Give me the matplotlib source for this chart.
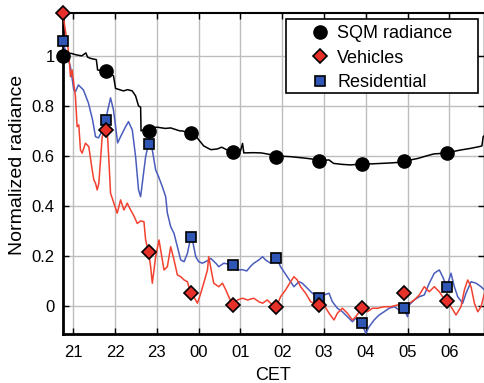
import matplotlib
matplotlib.use("Agg")
import matplotlib.pyplot as plt
from matplotlib.patches import Rectangle
from matplotlib.ticker import FixedLocator, FixedFormatter

plt.rcParams['font.family'] = ['Liberation Sans', 'DejaVu Sans']

# Hours after midnight of the first evening (21 = 21:00, 30 = 06:00 next day)
sqm_t = [20.76, 20.95, 21.05, 21.2, 21.30, 21.34, 21.41, 21.55, 21.58, 21.70, 21.89, 21.96,
         22.01, 22.20, 22.30, 22.41, 22.49, 22.56, 22.61, 22.62, 22.75, 23.0, 23.2, 23.33,
         23.55, 23.61, 23.81, 23.95, 24.12, 24.29, 24.45, 24.55, 24.76, 24.81, 25.00, 25.05,
         25.08, 25.3, 25.5, 25.70, 25.86, 26.2, 26.5, 26.7, 26.88, 27.12, 27.23, 27.45, 27.64,
         27.90, 28.10, 28.36, 28.60, 28.77, 28.90, 29.10, 29.25, 29.45, 29.63, 29.80, 29.94,
         30.10, 30.28, 30.50, 30.71, 30.78, 30.81, 30.83]
sqm_v = [1.01, 1.01, 1.005, 1.0, 1.012, 0.995, 0.99, 0.985, 0.944, 0.94, 0.93, 0.92,
         0.87, 0.86, 0.865, 0.86, 0.84, 0.80, 0.795, 0.70, 0.71, 0.715, 0.71, 0.712,
         0.70, 0.70, 0.69, 0.675, 0.64, 0.625, 0.628, 0.635, 0.617, 0.613, 0.62, 0.65,
         0.612, 0.613, 0.612, 0.606, 0.60, 0.597, 0.592, 0.588, 0.581, 0.584, 0.57, 0.566, 0.564,
         0.568, 0.568, 0.57, 0.572, 0.574, 0.58, 0.585, 0.59, 0.60, 0.608, 0.61, 0.613,
         0.618, 0.624, 0.63, 0.637, 0.64, 0.677, 0.68]

res_t = [20.74, 20.76, 20.93, 21.01, 21.05, 21.12, 21.24, 21.36, 21.46, 21.53, 21.60, 21.70,
         21.77, 21.89, 21.96, 22.06, 22.13, 22.25, 22.32, 22.41, 22.49, 22.56, 22.61, 22.73,
         22.80, 22.89, 22.97, 23.04, 23.13, 23.21, 23.25, 23.33, 23.41, 23.49, 23.57, 23.65,
         23.73, 23.81, 23.85, 23.93, 24.00, 24.09, 24.21, 24.29, 24.41, 24.48, 24.60, 24.81,
         24.93, 25.05, 25.15, 25.25, 25.32, 25.44, 25.53, 25.60, 25.72, 25.80, 25.87, 25.96,
         26.12, 26.20, 26.28, 26.40, 26.48, 26.60, 26.72, 26.84, 26.88, 27.00, 27.12, 27.20,
         27.32, 27.44, 27.56, 27.68, 27.76, 27.90, 28.00, 28.08, 28.20, 28.32, 28.44, 28.56,
         28.68, 28.80, 28.90, 29.00, 29.04, 29.16, 29.28, 29.40, 29.52, 29.64, 29.76, 29.84,
         29.94, 30.04, 30.12, 30.20, 30.32, 30.40, 30.52, 30.64, 30.76, 30.84]
res_v = [1.057, 1.05, 0.957, 0.864, 0.857, 0.884, 0.864, 0.812, 0.744, 0.677, 0.672, 0.704,
         0.744, 0.832, 0.784, 0.652, 0.677, 0.717, 0.737, 0.704, 0.597, 0.464, 0.437, 0.597,
         0.65, 0.624, 0.544, 0.517, 0.477, 0.437, 0.372, 0.317, 0.29, 0.237, 0.184, 0.177,
         0.21, 0.275, 0.264, 0.197, 0.177, 0.171, 0.181, 0.19, 0.171, 0.157, 0.171, 0.164,
         0.144, 0.145, 0.140, 0.160, 0.171, 0.184, 0.197, 0.184, 0.171, 0.184, 0.19, 0.157,
         0.117, 0.097, 0.077, 0.097, 0.091, 0.071, 0.051, 0.037, 0.031, 0.044, 0.051, 0.017,
         -0.009, -0.023, -0.043, -0.063, -0.049, -0.069, -0.109, -0.083, -0.056, -0.036, -0.023, -0.009,
         -0.003, -0.016, -0.007, -0.043, 0.004, 0.024, 0.037, 0.044, 0.091, 0.131, 0.144, 0.117,
         0.077, 0.131, 0.077, 0.037, 0.011, 0.051, 0.097, 0.091, 0.077, 0.064]

veh_t = [20.74, 20.76, 20.89, 20.93, 20.97, 21.01, 21.05, 21.09, 21.13, 21.17, 21.21, 21.29,
         21.37, 21.45, 21.49, 21.53, 21.57, 21.61, 21.65, 21.69, 21.77, 21.81, 21.85, 21.89,
         21.97, 22.05, 22.13, 22.21, 22.29, 22.37, 22.45, 22.53, 22.61, 22.69, 22.73, 22.80,
         22.85, 22.89, 22.97, 23.05, 23.09, 23.17, 23.25, 23.33, 23.41, 23.49, 23.57, 23.65,
         23.73, 23.81, 23.88, 23.97, 24.05, 24.12, 24.21, 24.24, 24.33, 24.36, 24.48, 24.57,
         24.65, 24.72, 24.81, 24.93, 25.05, 25.17, 25.32, 25.44, 25.53, 25.64, 25.72, 25.80,
         25.86, 25.96, 26.08, 26.20, 26.28, 26.36, 26.44, 26.56, 26.68, 26.76, 26.86, 27.00,
         27.12, 27.24, 27.32, 27.44, 27.56, 27.68, 27.76, 27.90, 28.04, 28.16, 28.28, 28.44,
         28.60, 28.76, 28.90, 29.04, 29.16, 29.28, 29.40, 29.52, 29.64, 29.76, 29.84, 29.94,
         30.04, 30.16, 30.28, 30.36, 30.44, 30.52, 30.60, 30.68, 30.76, 30.84]
veh_v = [1.17, 1.157, 1.01, 0.917, 0.944, 0.89, 0.837, 0.717, 0.724, 0.624, 0.611, 0.651,
         0.637, 0.544, 0.504, 0.491, 0.464, 0.491, 0.584, 0.677, 0.704, 0.704, 0.584, 0.451,
         0.411, 0.371, 0.424, 0.384, 0.411, 0.384, 0.36, 0.33, 0.34, 0.337, 0.264, 0.215,
         0.157, 0.091, 0.197, 0.264, 0.224, 0.144, 0.157, 0.237, 0.184, 0.124, 0.117, 0.104,
         0.097, 0.051, 0.037, 0.011, 0.051, 0.091, 0.144, 0.197, 0.117, 0.091, 0.077, 0.091,
         0.064, 0.037, 0.004, 0.024, 0.031, 0.024, 0.031, 0.017, 0.011, 0.024, 0.011, 0.004,
         -0.003, 0.037, 0.064, 0.097, 0.117, 0.104, 0.077, 0.051, 0.017, 0.011, 0.004, 0.004,
         -0.029, -0.056, -0.029, -0.009, -0.029, -0.056, -0.043, -0.01, -0.023, -0.009, -0.009, -0.003,
         -0.003, 0.004, 0.0, 0.011, 0.024, 0.044, 0.077, 0.057, 0.077, 0.057, 0.037, 0.021,
         -0.003, -0.036, -0.003, 0.064, 0.104, 0.077, 0.011, -0.023, -0.003, 0.051]

# Hourly sample points shown as markers
mark_t = [20.75, 21.77, 22.80, 23.81, 24.82, 25.85, 26.87, 27.90, 28.91, 29.94]
sqm_mark = [1.0, 0.94, 0.70, 0.69, 0.617, 0.597, 0.581, 0.568, 0.58, 0.613]
veh_mark = [1.17, 0.704, 0.215, 0.051, 0.004, -0.003, 0.004, -0.01, 0.051, 0.021]
res_mark = [1.061, 0.744, 0.648, 0.275, 0.164, 0.191, 0.031, -0.069, -0.007, 0.077]

hour_ticks = [21, 22, 23, 24, 25, 26, 27, 28, 29, 30]
hour_labels = ['21', '22', '23', '00', '01', '02', '03', '04', '05', '06']
y_ticks = [0, 0.2, 0.4, 0.6, 0.8, 1.0]
y_labels = ['0', '0.2', '0.4', '0.6', '0.8', '1']

RED = '#f2412f'
BLUE = '#4a5dbd'
RED_FILL = '#e8302b'
BLUE_FILL = '#2f55b5'

fig = plt.figure(figsize=(4.84, 3.83), dpi=100)
ax = fig.add_axes([0.130, 0.128, 0.870, 0.839])

ax.plot(sqm_t, sqm_v, color='black', lw=1.1, zorder=3)
ax.plot(res_t, res_v, color=BLUE, lw=1.1, zorder=3)
ax.plot(veh_t, veh_v, color=RED, lw=1.1, zorder=3)

ax.plot(mark_t, sqm_mark, 'o', ms=9.5, mfc='black', mec='black', label='SQM radiance',
        zorder=5, clip_on=False)
ax.plot(mark_t, res_mark, 's', ms=7.5, mfc=BLUE_FILL, mec='black', mew=1.2, label='Residential',
        zorder=5, clip_on=False)
ax.plot(mark_t, veh_mark, 'D', ms=7.5, mfc=RED_FILL, mec='black', mew=1.2, label='Vehicles',
        zorder=6, clip_on=False)

ax.set_xlim(20.75, 30.83)
ax.set_ylim(-0.112, 1.173)
ax.xaxis.set_major_locator(FixedLocator(hour_ticks))
ax.xaxis.set_major_formatter(FixedFormatter(hour_labels))
ax.yaxis.set_major_locator(FixedLocator(y_ticks))
ax.yaxis.set_major_formatter(FixedFormatter(y_labels))

ax.grid(True, color='#bdbdbd', lw=1.0, zorder=0)
ax.set_axisbelow(True)
ax.tick_params(direction='in', top=True, right=True, length=4, width=1.0,
               labelsize=12, pad=6, colors='black')
ax.tick_params(axis='x', pad=8)
for side in ['left', 'bottom']:
    ax.spines[side].set_linewidth(2.0)
ax.spines['top'].set_linewidth(1.5)
ax.spines['right'].set_linewidth(1.0)

ax.set_xlabel('CET', fontsize=13, labelpad=5)
ax.set_ylabel('Normalized radiance', fontsize=14)
ax.yaxis.set_label_coords(-0.088, 0.526)

# Legend entries without their own frame; the box is drawn separately
handles, labels = ax.get_legend_handles_labels()
order = [0, 2, 1]
leg = ax.legend([handles[i] for i in order], [labels[i] for i in order],
                loc='upper left', bbox_to_anchor=(0.589, 0.961), fontsize=13,
                frameon=False, handlelength=1.0, handletextpad=0.45, borderpad=0.0,
                labelspacing=0.42, borderaxespad=0.0)
leg.set_zorder(8)
ax.add_patch(Rectangle((0.530, 0.750), 0.456, 0.230, transform=ax.transAxes,
                       facecolor='white', edgecolor='black', lw=1.2, zorder=7,
                       clip_on=False))

fig.savefig('out.png', dpi=100)
